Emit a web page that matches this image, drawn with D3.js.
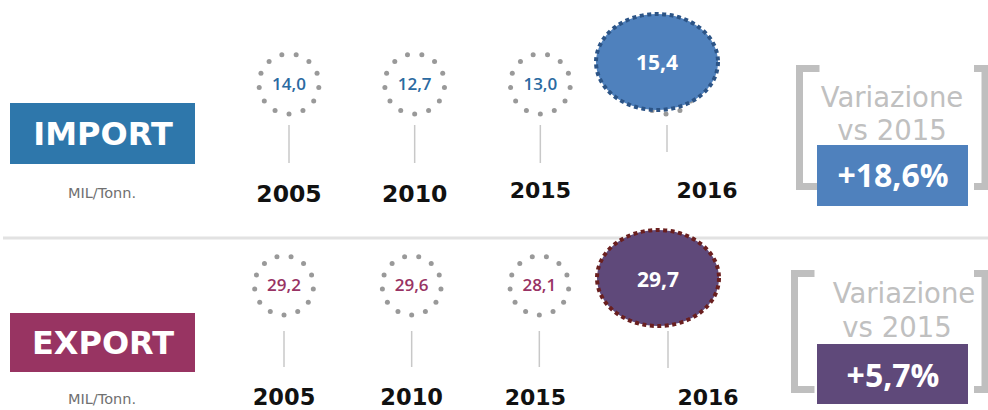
<!DOCTYPE html>
<html><head><meta charset="utf-8">
<script src="https://cdn.jsdelivr.net/npm/d3@7/dist/d3.min.js"></script>
<style>html,body{margin:0;padding:0;background:#fff;}svg{display:block;}</style>
</head><body>
<svg id="chart" width="988" height="410"></svg>
<script>
// ---- data ----
const years = ["2005", "2010", "2015", "2016"];
const importValues = [14.0, 12.7, 13.0, 15.4];
const exportValues = [29.2, 29.6, 28.1, 29.7];
const seriesNames = ["IMPORT", "EXPORT"];
const variations = [18.6, 5.7];
const unitLabel = "MIL/Tonn.";
const compareLabel = ["Variazione", "vs 2015"];

// ---- formatting ----
const itLocale = d3.formatLocale({decimal: ",", thousands: ".", grouping: [3], currency: ["€", ""]});
const fmtVal = itLocale.format(".1f");
const fmtPct = v => "+" + itLocale.format(".1f")(v) + "%";

const svg = d3.select("#chart");

// separator
svg.append("line").attr("x1", 3).attr("x2", 988).attr("y1", 238).attr("y2", 238)
  .attr("stroke", "#e2e2e2").attr("stroke-width", 3);

const panels = [
  {name: seriesNames[0], values: importValues, variation: variations[0],
   xRange: [289, 666], cy: 84, r: 30,
   labelBox: {y: 103, h: 61}, unitY: 198,
   lineTop: 125, lineBot: 163, lineBotLast: 152,
   yearBase: [202, 202, 198, 198], yearSize: [23.5, 23.5, 22, 22],
   valBase: 90, hiBase: 70, ell: {cy: 62, rx: 61, ry: 48},
   boxColor: "#2e77ab", numColor: "#2b6aa1", ellFill: "#4f81bd", ellStroke: "#2c5486",
   varColor: "#4f81bd",
   br: {top: 68.5, bot: 186.5}, cmpX: [892, 892], cmpY: [107, 140],
   vbox: {y: 145, h: 61}, vBase: 187},
  {name: seriesNames[1], values: exportValues, variation: variations[1],
   xRange: [284, 667], cy: 285.5, r: 29.5,
   labelBox: {y: 313, h: 59}, unitY: 404,
   lineTop: 331, lineBot: 367, lineBotLast: 368,
   yearBase: [404.5, 404.5, 404.5, 404.5], yearSize: [22.5, 22.5, 22, 22],
   valBase: 291, hiBase: 287, ell: {cy: 278, rx: 61, ry: 48},
   boxColor: "#983462", numColor: "#983364", ellFill: "#5f497a", ellStroke: "#6a1f1f",
   varColor: "#5f497a",
   br: {top: 273.5, bot: 389.5}, cmpX: [904, 897], cmpY: [303, 337],
   vbox: {y: 344, h: 60}, vBase: 387}
];

const nDots = 13;
const dotAngles = d3.range(nDots).map(i => Math.PI / 2 + i * 2 * Math.PI / nDots);

panels.forEach(p => {
  const g = svg.append("g");
  const x = d3.scalePoint().domain(years).range(p.xRange);
  const last = years[years.length - 1];

  // series label box
  g.append("rect").attr("x", 10).attr("y", p.labelBox.y).attr("width", 185).attr("height", p.labelBox.h)
    .attr("fill", p.boxColor);
  g.append("text").attr("x", 103).attr("y", p.labelBox.y + p.labelBox.h / 2 + 11.5)
    .attr("text-anchor", "middle").attr("fill", "#fff")
    .attr("font-family", "DejaVu Sans").attr("font-weight", "bold").attr("font-size", 32)
    .text(p.name);
  g.append("text").attr("x", 102).attr("y", p.unitY).attr("text-anchor", "middle")
    .attr("fill", "#707070").attr("font-family", "DejaVu Sans").attr("font-size", 14.5)
    .text(unitLabel);

  // stems
  g.selectAll(".stem").data(years).join("line")
    .attr("x1", d => x(d) + (d === last ? 1 : 0)).attr("x2", d => x(d) + (d === last ? 1 : 0))
    .attr("y1", p.lineTop).attr("y2", d => d === last ? p.lineBotLast : p.lineBot)
    .attr("stroke", "#c8c8c8").attr("stroke-width", 1.5);

  // dotted rings
  years.forEach(yr => {
    g.append("g").selectAll("circle").data(dotAngles).join("circle")
      .attr("cx", a => x(yr) + p.r * Math.cos(a))
      .attr("cy", a => p.cy + p.r * Math.sin(a))
      .attr("r", 2.5).attr("fill", "#999999");
  });

  // values (non-highlighted)
  g.selectAll(".val").data(years.slice(0, -1)).join("text")
    .attr("x", d => x(d)).attr("y", p.valBase).attr("text-anchor", "middle")
    .attr("fill", p.numColor).attr("font-family", "Open Sans").attr("font-weight", 600)
    .attr("font-size", 17).text((d, i) => fmtVal(p.values[i]));

  // highlighted ellipse
  const ex = x(last) - 9;
  g.append("ellipse").attr("cx", ex).attr("cy", p.ell.cy).attr("rx", p.ell.rx).attr("ry", p.ell.ry)
    .attr("fill", p.ellFill).attr("stroke", p.ellStroke).attr("stroke-width", 4)
    .attr("stroke-dasharray", "4 3.5");
  g.append("text").attr("x", ex).attr("y", p.hiBase).attr("text-anchor", "middle")
    .attr("fill", "#fff").attr("font-family", "Open Sans").attr("font-weight", "bold")
    .attr("font-size", 21).text(fmtVal(p.values[p.values.length - 1]));

  // year labels
  g.selectAll(".yr").data(years).join("text")
    .attr("x", (d, i) => x(d) + (d === last ? 41 : (i === 2 && p.name === "EXPORT" ? -4 : 0)))
    .attr("y", (d, i) => p.yearBase[i]).attr("text-anchor", "middle")
    .attr("fill", "#111").attr("font-family", "DejaVu Sans").attr("font-weight", "bold")
    .attr("font-size", (d, i) => p.yearSize[i]).text(d => d);

  // brackets
  const bx = p.name === "IMPORT" ? 799.5 : 794.5;
  g.append("path").attr("d", `M${bx + 20},${p.br.top} H${bx} V${p.br.bot} H${bx + 20}`)
    .attr("fill", "none").attr("stroke", "#bfbfbf").attr("stroke-width", 7);
  g.append("path").attr("d", `M974,${p.br.top} H985 V${p.br.bot} H974`)
    .attr("fill", "none").attr("stroke", "#bfbfbf").attr("stroke-width", 7);

  // compare label
  compareLabel.forEach((t, i) => {
    g.append("text").attr("x", p.cmpX[i]).attr("y", p.cmpY[i]).attr("text-anchor", "middle")
      .attr("fill", "#c0c0c0").attr("font-family", "DejaVu Sans").attr("font-size", 27.5).text(t);
  });

  // variation box
  g.append("rect").attr("x", 817).attr("y", p.vbox.y).attr("width", 151).attr("height", p.vbox.h)
    .attr("fill", p.varColor);
  g.append("text").attr("x", 893).attr("y", p.vBase).attr("text-anchor", "middle")
    .attr("fill", "#fff").attr("font-family", "Open Sans").attr("font-weight", "bold")
    .attr("font-size", 32).text(fmtPct(p.variation));
});
</script>
</body></html>
